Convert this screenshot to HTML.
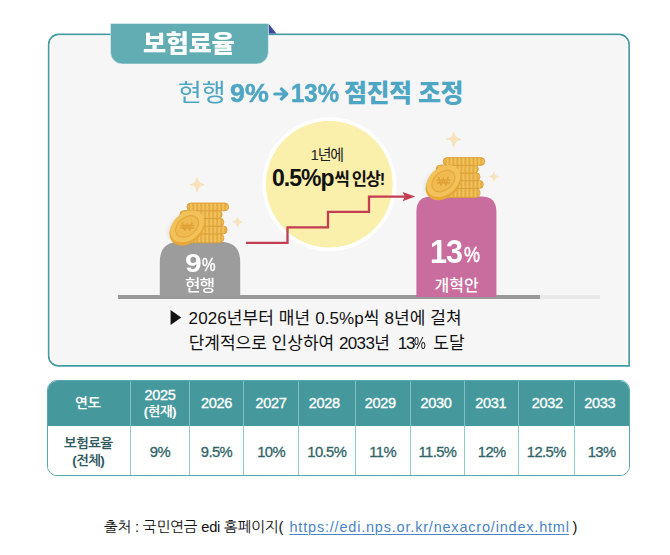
<!DOCTYPE html>
<html lang="ko">
<head>
<meta charset="utf-8">
<title>보험료율</title>
<style>
html,body{margin:0;padding:0;background:#fff;}
body{width:670px;height:555px;position:relative;overflow:hidden;font-family:"Liberation Sans","Noto Sans CJK KR",sans-serif;color:#222;}
#art{position:absolute;left:0;top:0;}
.t{position:absolute;white-space:nowrap;line-height:1;}
.kr{font-family:"Liberation Sans","Noto Sans CJK KR",sans-serif;}
.ng{font-family:"Liberation Sans","NanumGothic",sans-serif;}
#tab{left:142.5px;top:31.5px;color:#fff;font-weight:900;font-size:24px;transform-origin:0 50%;transform:scaleX(1.05);letter-spacing:-0.3px;}
.hd{color:#4ea6c4;transform-origin:0 50%;}
#h1{left:178px;top:81.4px;font-size:24px;font-weight:400;transform:scaleX(1.08);}
#h2{left:229.5px;top:81.4px;font-size:25px;font-weight:700;transform:scaleX(1.07);-webkit-text-stroke:0.5px #4ea6c4;}
#h3{left:290.5px;top:81.4px;font-size:25px;font-weight:700;transform:scaleX(0.96);-webkit-text-stroke:0.5px #4ea6c4;}
#h4{left:344px;top:81.4px;font-size:25px;font-weight:900;letter-spacing:-0.5px;}
#c1{left:310.5px;top:146.5px;font-size:15px;color:#222;letter-spacing:-1.2px;}
#c2a{left:272px;top:167px;font-size:23px;font-weight:700;color:#111;letter-spacing:-1px;}
#c2b{left:334.5px;top:171px;font-size:16.5px;font-weight:700;color:#111;letter-spacing:-1.2px;}
.w{color:#fff;transform-origin:0 50%;}
#p9a{left:185px;top:251px;font-size:25.5px;font-weight:700;transform:scaleX(1.18);}
#p9b{left:201.6px;top:255.6px;font-size:18px;font-weight:400;transform:scaleX(0.85);-webkit-text-stroke:0.45px #fff;}
#p9l{left:185.3px;top:277.5px;font-size:16px;font-weight:500;letter-spacing:-1px;transform:scaleX(1.06);}
#p13a{left:430.3px;top:234px;font-size:34px;font-weight:700;transform:scaleX(0.9);letter-spacing:-1px;}
#p13b{left:464px;top:244px;font-size:22.5px;font-weight:400;transform:scaleX(0.8);-webkit-text-stroke:0.55px #fff;}
#p13l{left:434.5px;top:278px;font-size:16px;font-weight:500;letter-spacing:0px;}
#d0{left:169px;top:310px;font-size:16px;color:#111;transform:scaleX(0.82);transform-origin:0 50%;}
#d1{left:188.6px;top:309.8px;font-size:17px;color:#111;letter-spacing:0.1px;}
#d2{left:188.7px;top:335px;font-size:17px;color:#111;letter-spacing:0px;}
#d2 i{font-style:normal;letter-spacing:-0.6px;}
#d2 u{text-decoration:none;letter-spacing:-1.2px;margin-left:3px;margin-right:2.5px;}
#d2 u em{font-style:normal;font-size:17px;letter-spacing:0;display:inline-block;transform:scaleX(0.78);transform-origin:0 50%;margin-right:-3.3px;}
table{position:absolute;left:47.2px;top:380.4px;width:582.6px;height:95.6px;border-collapse:separate;border-spacing:0;table-layout:fixed;font-family:"Liberation Sans","NanumGothic",sans-serif;border:1px solid #55a8ad;border-radius:10px;overflow:hidden;box-sizing:border-box;}
th,td{padding:0;text-align:center;vertical-align:middle;border-left:1px solid #8fcdd0;white-space:nowrap;}
th:first-child,td:first-child{border-left:none;}
th{background:#45999c;color:#fff;font-weight:400;height:44.3px;font-size:14.5px;line-height:15.5px;letter-spacing:-0.3px;-webkit-text-stroke:0.35px #fff;border-left-color:#7fc0c3;}
th span{font-family:"Liberation Sans","NanumGothic",sans-serif;font-weight:700;font-size:13.5px;-webkit-text-stroke:0;letter-spacing:-0.5px;}
td{background:#fff;color:#2f6468;height:45.3px;font-size:14.8px;line-height:17px;letter-spacing:-0.6px;-webkit-text-stroke:0.3px #2f6468;padding-top:4px;}
td:first-child{font-weight:700;font-size:13.5px;color:#2f5a5e;-webkit-text-stroke:0;letter-spacing:-0.6px;padding-top:2.4px;padding-right:2px;}
th:nth-child(5),th:nth-child(6){padding-right:5px;}
th:nth-child(7){padding-right:3px;}
th:nth-child(8){padding-right:2px;}
th:nth-child(9){padding-left:2px;}
th:nth-child(10){padding-right:4px;}
th:first-child{font-size:14px;font-weight:700;-webkit-text-stroke:0;padding-right:3px;}
.src{top:519.8px;font-size:14.7px;color:#111;letter-spacing:-0.2px;}
#s1{left:104px;}
#s2{left:289.5px;color:#4a84c4;text-decoration:underline;text-decoration-thickness:1px;text-underline-offset:2px;font-size:14.5px;letter-spacing:0.8px;top:519.5px;}
#s2 b{font-weight:400;letter-spacing:0;}
#s3{left:572.4px;}
</style>
</head>
<body>
<svg id="art" width="670" height="555" viewBox="0 0 670 555">
  <defs>
    <g id="spark"><path d="M0,-6.6 C0.9,-2.2 2.2,-0.9 6.6,0 C2.2,0.9 0.9,2.2 0,6.6 C-0.9,2.2 -2.2,-0.9 -6.6,0 C-2.2,-0.9 -0.9,-2.2 0,-6.6Z" fill="#f8e2bd" stroke="#f8e2bd" stroke-width="1.6" stroke-linejoin="round"/></g>
    <pattern id="rib" width="4" height="10" patternUnits="userSpaceOnUse" x="1.2">
      <rect width="4" height="10" fill="#dfa238"/>
      <rect x="0.7" y="0" width="2.6" height="10" fill="#f1c25a"/>
    </pattern>
    <filter id="soft" x="-30%" y="-30%" width="160%" height="160%"><feGaussianBlur stdDeviation="2"/></filter>
    <g id="coins">
      <!-- stack: origin = top-left of stack -->
      <rect x="9" y="30.6" width="34.8" height="9.2" rx="4.2" fill="url(#rib)" stroke="#dc9e36" stroke-width="0.9"/>
      <rect x="9" y="22.9" width="38.1" height="8" rx="3.9" fill="url(#rib)" stroke="#dc9e36" stroke-width="0.9"/>
      <rect x="6" y="15.2" width="37.8" height="8" rx="3.9" fill="url(#rib)" stroke="#dc9e36" stroke-width="0.9"/>
      <rect x="0" y="7.6" width="42.1" height="7.9" rx="3.9" fill="url(#rib)" stroke="#dc9e36" stroke-width="0.9"/>
      <rect x="7" y="0" width="41.6" height="7.8" rx="3.9" fill="url(#rib)" stroke="#dc9e36" stroke-width="0.9"/>
      <!-- leaning coin -->
      <ellipse cx="4.5" cy="26" rx="17" ry="13" transform="rotate(-40 4.5 26)" fill="#8a8a8a" opacity="0.28" filter="url(#soft)"/>
      <g transform="translate(7.1,24) rotate(-40) scale(1.03)">
        <ellipse cx="-1.2" cy="1.4" rx="19" ry="14" fill="#e6a838"/>
        <ellipse cx="0.4" cy="-0.4" rx="18.2" ry="13.2" fill="#f2c15a"/>
        <ellipse cx="0.4" cy="-0.4" rx="12.6" ry="8.8" fill="#efbb50" stroke="#e4a83e" stroke-width="1.1"/>
        <g transform="translate(0.4,-0.4) rotate(40)" fill="none" stroke="#e0a137" stroke-width="1.5" stroke-linecap="round" stroke-linejoin="round">
          <path d="M-4.6,-3.6 L-2.4,3.8 L0,-2.6 L2.4,3.8 L4.6,-3.6"/>
          <path d="M-6,-0.8 H6 M-6,1.6 H6"/>
        </g>
      </g>
    </g>
  </defs>

  <!-- main panel -->
  <path d="M58.7,34.4 H619.1 A10,10 0 0 1 629.1,44.4 V365.9 H58.7 A10,10 0 0 1 48.7,355.9 V44.4 A10,10 0 0 1 58.7,34.4Z" fill="#f6f6f6" stroke="#449ca2" stroke-width="1.7"/>
  <path d="M58.7,36 H619.1 A8.4,8.4 0 0 1 627.5,44.4 V364.3 H58.7 A8.4,8.4 0 0 1 50.3,355.9 V44.4 A8.4,8.4 0 0 1 58.7,36Z" fill="none" stroke="#ffffff" stroke-width="1.2" opacity="0.8"/>
  <!-- tab fold -->
  <path d="M268.4,23.5 L276.4,33.6 L268.4,33.6Z" fill="#3b4a9c"/>
  <!-- tab -->
  <path d="M110.5,23.5 H268.4 V51.9 A12,12 0 0 1 256.4,63.9 H122.5 A12,12 0 0 1 110.5,51.9Z" fill="#61adb3" stroke="#ffffff" stroke-width="0.6" stroke-opacity="0.7"/>

  <!-- heading arrow -->
  <path d="M274.8,94 H286 M281.4,89 L286.8,94 L281.4,99" fill="none" stroke="#4ea6c4" stroke-width="3.2" stroke-linecap="round" stroke-linejoin="round"/>
  <!-- base line -->
  <rect x="118" y="295" width="422" height="4" fill="#999999"/>
  <rect x="540" y="295" width="60" height="4" fill="#e8e8e8"/>

  <!-- circle -->
  <circle cx="329.3" cy="184.3" r="67" fill="#ffffff"/>
  <circle cx="329.3" cy="184.3" r="63.3" fill="#faefab"/>

  <!-- pedestals -->
  <path d="M159.8,296 V262 Q159.8,241.8 180,241.8 H220 Q240.2,241.8 240.2,262 V296Z" fill="#9c9c9c"/>
  <path d="M416.4,297 V211.5 Q416.4,196.4 431.4,196.4 H481.4 Q496.4,196.4 496.4,211.5 V297Z" fill="#c96d9e"/>

  <!-- stairs -->
  <path d="M246,242.9 H287.5 V227.3 H328 V211.9 H369 V196.6 H406" fill="none" stroke="#c43d52" stroke-width="2.3"/>
  <path d="M402.6,192 L415.3,196.6 L402.6,201.3 L405,196.6Z" fill="#c43d52"/>

  <!-- coins -->
  <use href="#coins" x="180" y="203"/>
  <use href="#coins" x="436.2" y="157.6"/>
  <use href="#spark" transform="translate(197.1,184.8)"/>
  <use href="#spark" transform="translate(237.4,222) scale(0.68)"/>
  <use href="#spark" transform="translate(453.7,139.4)"/>
  <use href="#spark" transform="translate(493.9,176.8) scale(0.68)"/>
</svg>

<div id="tab" class="t kr">보험료율</div>
<div id="h1" class="t kr hd">현행</div>
<div id="h2" class="t kr hd">9%</div>
<div id="h3" class="t kr hd">13%</div>
<div id="h4" class="t kr hd">점진적 조정</div>
<div id="c1" class="t kr">1년에</div>
<div id="c2a" class="t kr">0.5%p</div>
<div id="c2b" class="t kr">씩 인상!</div>
<div id="p9a" class="t kr w">9</div>
<div id="p9b" class="t kr w">%</div>
<div id="p9l" class="t kr w">현행</div>
<div id="p13a" class="t kr w">13</div>
<div id="p13b" class="t kr w">%</div>
<div id="p13l" class="t kr w">개혁안</div>
<div id="d0" class="t kr">▶</div>
<div id="d1" class="t kr">2026년부터 매년 0.5%p씩 8년에 걸쳐</div>
<div id="d2" class="t kr">단계적으로 인상하여 <i>2033</i>년 <u>13<em>%</em></u> 도달</div>

<table>
<colgroup><col style="width:82.1px"><col style="width:58.3px"><col style="width:54.7px"><col style="width:54.6px"><col style="width:56.8px"><col style="width:55px"><col style="width:54.7px"><col style="width:53.8px"><col style="width:55.4px"><col></colgroup>
<tr><th>연도</th><th>2025<br><span>(현재)</span></th><th>2026</th><th>2027</th><th>2028</th><th>2029</th><th>2030</th><th>2031</th><th>2032</th><th>2033</th></tr>
<tr><td>보험료율<br>(전체)</td><td>9%</td><td>9.5%</td><td>10%</td><td>10.5%</td><td>11%</td><td>11.5%</td><td>12%</td><td>12.5%</td><td>13%</td></tr>
</table>

<div id="s1" class="t ng src">출처 : 국민연금 edi 홈페이지(</div>
<div id="s2" class="t ng src">https://edi.nps.or.kr/nexacro/index.htm<b>l</b></div>
<div id="s3" class="t ng src">)</div>
</body>
</html>
